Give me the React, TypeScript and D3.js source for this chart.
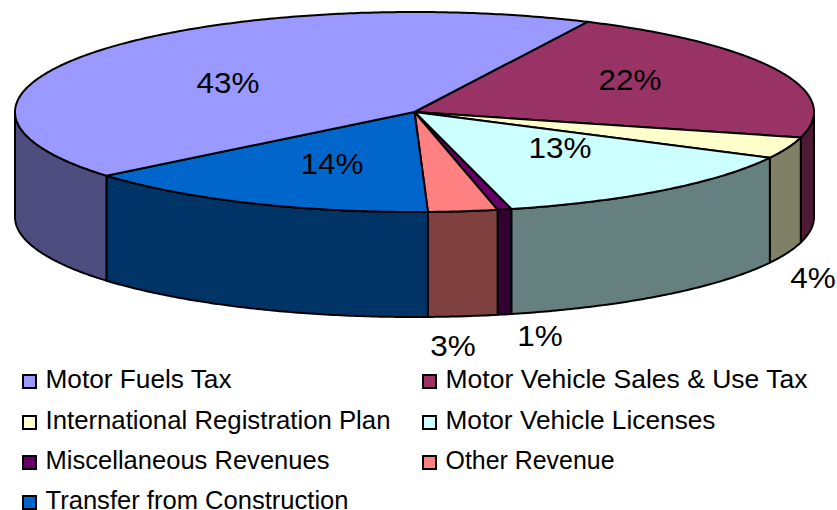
import React from "react";
import * as d3 from "d3";

const categories = [
  "Motor Vehicle Sales & Use Tax",
  "International Registration Plan",
  "Motor Vehicle Licenses",
  "Miscellaneous Revenues",
  "Other Revenue",
  "Transfer from Construction",
  "Motor Fuels Tax",
];
const values = [21.98, 3.45, 13.55, 0.56, 2.8, 14.55, 43.11];
const percentLabels = ["22%", "4%", "13%", "1%", "3%", "14%", "43%"];
const topColors = ["#993366", "#ffffcc", "#ccffff", "#660066", "#ff8080", "#0066cc", "#9999ff"];
const wallColors = ["#4d1a33", "#808066", "#668080", "#330033", "#804040", "#003366", "#4d4d80"];
const legendOrder = [6, 0, 1, 2, 3, 4, 5];

const W = 837;
const H = 510;
const cx = 414.5;
const cy = 112;
const rx = 399.5;
const ry = 100;
const depth = 105;
const startAngle = (25.65 * Math.PI) / 180;
const labelAt: [number, number][] = [
  [630, 80], [813, 278], [560, 148], [540, 336], [453, 346], [332, 164], [228, 83],
];
const legendRows = [379, 420, 460, 500];
// rendered text widths, in legend order
const legendWidths = [186, 362, 345, 270, 284, 169, 303];

// d3 angle: 0 at top, clockwise
const px = d3.scaleLinear().domain([-1, 1]).range([cx - rx, cx + rx]);
const py = d3.scaleLinear().domain([-1, 1]).range([cy - ry, cy + ry]);
const pt = (a: number, dz = 0): [number, number] => [px(Math.sin(a)), py(-Math.cos(a)) + dz];

const arcs = d3
  .pie<number>()
  .sort(null)
  .startAngle(startAngle)
  .endAngle(startAngle + 2 * Math.PI)(values);

const line = d3.line();
const samples = (a0: number, a1: number, dz = 0) => {
  const n = Math.max(2, Math.ceil(Math.abs(a1 - a0) / 0.01));
  return d3.range(n + 1).map((i) => pt(a0 + ((a1 - a0) * i) / n, dz));
};

const topPath = (a0: number, a1: number) => (line([[cx, cy], ...samples(a0, a1)]) as string) + "Z";
const wallPath = (a0: number, a1: number) => {
  // visible front half: d3 angle between PI/2 and 3PI/2
  const b0 = Math.max(a0, Math.PI / 2);
  const b1 = Math.min(a1, (3 * Math.PI) / 2);
  if (b1 <= b0) return null;
  return (line([...samples(b0, b1), ...samples(b1, b0, depth)]) as string) + "Z";
};

const font = "'Liberation Sans', Arial, sans-serif";

export default function App() {
  return (
    <svg
      width={W}
      height={H}
      viewBox={`0 0 ${W} ${H}`}
      style={{ position: "absolute", left: 0, top: 0, display: "block", background: "#fff" }}
      fontFamily={font}
    >
      <g stroke="#000" strokeWidth={2} strokeLinejoin="round">
        {arcs.map((d, i) => {
          const p = wallPath(d.startAngle, d.endAngle);
          return p ? <path key={i} d={p} fill={wallColors[i]} /> : null;
        })}
        {arcs.map((d, i) => (
          <path key={i} d={topPath(d.startAngle, d.endAngle)} fill={topColors[i]} />
        ))}
      </g>
      <g fontSize={30} fill="#000" textAnchor="middle" dominantBaseline="central">
        {percentLabels.map((t, i) => (
          <text key={t} transform={`translate(${labelAt[i][0]},${labelAt[i][1]}) scale(1.05,1)`}>
            {t}
          </text>
        ))}
      </g>
      <g fontSize={25} fill="#000">
        {legendOrder.map((c, i) => {
          const x = i % 2 === 1 ? 423 : 23;
          const y = legendRows[Math.floor(i / 2)];
          return (
            <g key={c}>
              <rect x={x} y={y - 4} width={13} height={13} fill={topColors[c]} stroke="#000" strokeWidth={2} />
              <text
                x={x + 22.5}
                y={y}
                dominantBaseline="central"
                textLength={legendWidths[i]}
                lengthAdjust="spacingAndGlyphs"
              >
                {categories[c]}
              </text>
            </g>
          );
        })}
      </g>
    </svg>
  );
}
